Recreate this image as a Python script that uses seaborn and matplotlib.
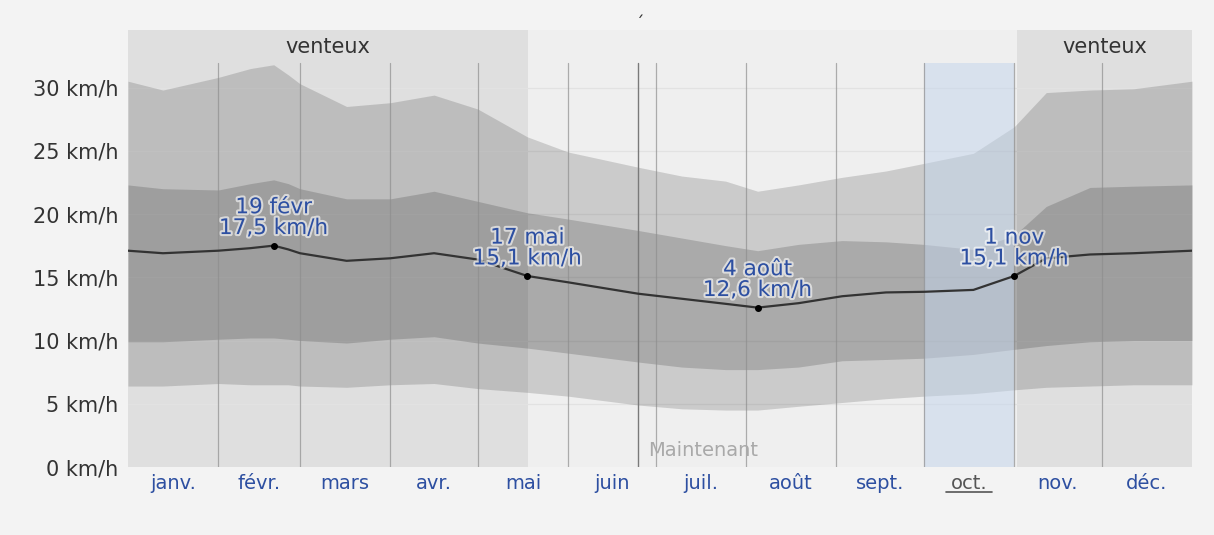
"""Vitesse moyenne du vent par jour de l'annee, avec bandes de percentiles."""
import matplotlib
matplotlib.use('Agg')
import matplotlib.pyplot as plt
import matplotlib.patheffects as pe
import matplotlib.transforms as mtransforms
import seaborn as sns
import pandas as pd

# jour de l'annee (0 = 1er janvier)
days = [0, 12, 31, 42, 50, 55, 59, 75, 90, 105, 120, 137, 151, 175, 190, 205, 216,
        230, 245, 260, 273, 290, 304, 315, 330, 345, 365]
p90 = [30.5, 29.8, 30.8, 31.5, 31.8, 31.0, 30.3, 28.5, 28.8, 29.4, 28.3, 26.1, 24.9, 23.7,
       23.0, 22.6, 21.8, 22.3, 22.9, 23.4, 24.0, 24.8, 26.9, 29.6, 29.8, 29.9, 30.5]
p75 = [22.3, 22.0, 21.9, 22.4, 22.7, 22.4, 22.0, 21.2, 21.2, 21.8, 21.0, 20.1, 19.6, 18.7,
       18.1, 17.5, 17.1, 17.6, 17.9, 17.8, 17.6, 17.2, 18.3, 20.6, 22.1, 22.2, 22.3]
median = [17.1, 16.9, 17.1, 17.3, 17.5, 17.2, 16.9, 16.3, 16.5, 16.9, 16.4, 15.1, 14.6, 13.7,
          13.3, 12.9, 12.6, 12.95, 13.5, 13.8, 13.85, 14.0, 15.1, 16.5, 16.8, 16.9, 17.1]
p25 = [9.9, 9.9, 10.1, 10.2, 10.2, 10.1, 10.0, 9.8, 10.1, 10.3, 9.8, 9.4, 9.0, 8.3,
       7.9, 7.7, 7.7, 7.9, 8.4, 8.5, 8.6, 8.9, 9.3, 9.6, 9.9, 10.0, 10.0]
p10 = [6.4, 6.4, 6.6, 6.5, 6.5, 6.5, 6.4, 6.3, 6.5, 6.6, 6.2, 5.9, 5.6, 4.9,
       4.6, 4.5, 4.5, 4.8, 5.1, 5.4, 5.6, 5.8, 6.1, 6.3, 6.4, 6.5, 6.5]

months = ['janv.', 'févr.', 'mars', 'avr.', 'mai', 'juin', 'juil.', 'août',
          'sept.', 'oct.', 'nov.', 'déc.']
month_starts = [0, 31, 59, 90, 120, 151, 181, 212, 243, 273, 304, 334, 365]

# points remarquables
marks_day = [50, 137, 216, 304]
marks_val = [17.5, 15.1, 12.6, 15.1]
marks_txt = ['19 févr\n17,5 km/h', '17 mai\n15,1 km/h', '4 août\n12,6 km/h', '1 nov\n15,1 km/h']

windy = [(0, 137.3), (305, 365)]
now_day = 175
yticks = [0, 5, 10, 15, 20, 25, 30]

df = pd.DataFrame({'day': days, 'median': median})

sns.set_style('white')
plt.rcParams['font.family'] = ['DejaVu Sans']

fig = plt.figure(figsize=(12.14, 5.35), dpi=100, facecolor='#f3f3f3')
ax = fig.add_axes([0.1054, 0.1271, 0.8765, 0.8169])
ax.set_facecolor('#efefef')
for s in ax.spines.values():
    s.set_visible(False)

ax.set_xlim(0, 365)
ax.set_ylim(0, 34.55)

# periodes venteuses
for a, b in windy:
    ax.axvspan(a, b, ymin=0, ymax=1, color='#dfdfdf', zorder=0, lw=0)

for y in yticks[1:]:
    ax.axhline(y, color='#e2e2e2', lw=0.9, zorder=0.5)

# bandes percentiles
ax.fill_between(days, p10, p90, color='black', alpha=0.15, lw=0, zorder=1)
ax.fill_between(days, p25, p75, color='black', alpha=0.16, lw=0, zorder=1.1)

# mois en cours
ax.fill_between([273, 304], 0, 31.9, color='#c3d5ec', alpha=0.5, lw=0, zorder=1.5)

for d in month_starts[1:-1]:
    ax.plot([d, d], [0, 31.9], color='#8e8e8e', lw=0.9, alpha=0.7, zorder=2)
ax.plot([now_day, now_day], [0, 31.9], color='#7a7a7a', lw=1.0, zorder=2)
ax.text(now_day + 3.5, 1.3, 'Maintenant', color='#a9a9a9', fontsize=14,
        ha='left', va='center', zorder=3)

sns.lineplot(data=df, x='day', y='median', color='#333333', lw=1.6, ax=ax, zorder=4)
ax.scatter(marks_day, marks_val, s=16, color='black', zorder=5)

halo = [pe.withStroke(linewidth=3, foreground='white', alpha=0.6)]
for d, v, t in zip(marks_day, marks_val, marks_txt):
    ax.text(d, v + 0.6, t, color='#2d4fa1', fontsize=15.5, ha='center', va='bottom',
            linespacing=1.05, zorder=6, path_effects=halo)

for a, b in windy:
    ax.text((a + b) / 2, 33.2, 'venteux', color='#333333', fontsize=15,
            ha='center', va='center', zorder=6)

ax.set_yticks(yticks)
ax.set_yticklabels([f'{y} km/h' for y in yticks], fontsize=15, color='#333333')
mids = [(month_starts[i] + month_starts[i + 1]) / 2 for i in range(12)]
ax.set_xticks(mids)
ax.set_xticklabels(months, fontsize=14, color='#2d4fa1')
ax.get_xticklabels()[9].set_color('#555555')
ax.tick_params(axis='both', length=0)
ax.tick_params(axis='y', pad=7)
ax.tick_params(axis='x', pad=5)
ax.set_xlabel('')
ax.set_ylabel('')

# soulignement du mois courant
trans = mtransforms.blended_transform_factory(ax.transData, ax.transAxes)
ax.plot([280.5, 296.5], [-0.058, -0.058], color='#555555', lw=1.2,
        transform=trans, clip_on=False)

fig.text(0.527, 0.955, '´', fontsize=12, color='#333333', ha='center', va='center')

plt.savefig('out.png', dpi=100, facecolor=fig.get_facecolor())
